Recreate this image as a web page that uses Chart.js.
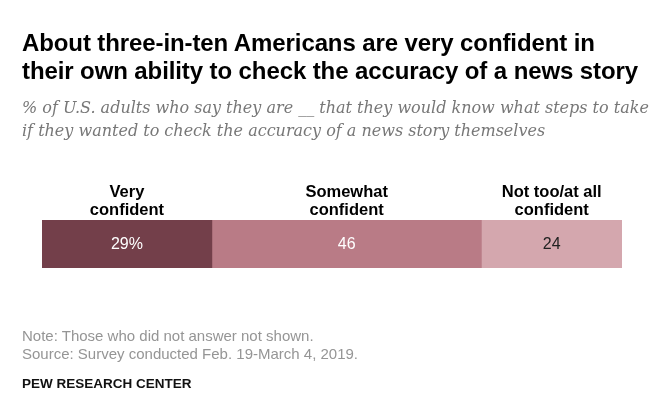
<!DOCTYPE html>
<html>
<head>
<meta charset="utf-8">
<script src="https://cdn.jsdelivr.net/npm/chart.js@4"></script>
<style>
  html, body { margin: 0; padding: 0; background: #fff; }
  #wrap { position: relative; width: 670px; height: 415px; overflow: hidden; }
  #chart { position: absolute; left: 0; top: 0; }
  .t { position: absolute; white-space: nowrap; }
  #title { left: 22px; top: 29px; font-family: "Liberation Sans", Arial, sans-serif; font-weight: bold; font-size: 24px; line-height: 28px; color: #000; letter-spacing: -0.1px; }
  #sub { left: 22px; top: 96px; font-family: "DejaVu Serif", Georgia, serif; font-style: italic; font-size: 16px; line-height: 23px; color: #777; }
  #note { left: 22px; top: 327px; font-family: "Liberation Sans", Arial, sans-serif; font-size: 15px; line-height: 18px; color: #959595; }
  #pew { left: 22px; top: 376px; font-family: "Liberation Sans", Arial, sans-serif; font-weight: bold; font-size: 13.5px; line-height: 16px; color: #111; }
</style>
</head>
<body>
<div id="wrap">
  <canvas id="chart" width="670" height="415"></canvas>
  <div class="t" id="title">About three-in-ten Americans are very confident in<br>their own ability to check the accuracy of a news story</div>
  <div class="t" id="sub">% of U.S. adults who say they are __ that they would know what steps to take<br>if they wanted to check the accuracy of a news story themselves</div>
  <div class="t" id="note">Note: Those who did not answer not shown.<br>Source: Survey conducted Feb. 19-March 4, 2019.</div>
  <div class="t" id="pew">PEW RESEARCH CENTER</div>
</div>
<script>
const categories = ['Very confident', 'Somewhat confident', 'Not too/at all confident'];
const headerLines = [['Very', 'confident'], ['Somewhat', 'confident'], ['Not too/at all', 'confident']];
const values = [29, 46, 24];
const valueLabels = ['29%', '46', '24'];
const barColors = ['#733f4a', '#b97b86', '#d4a7ae'];
const labelColors = ['#ffffff', '#ffffff', '#222222'];

const total = values.reduce((a, b) => a + b, 0);

const segLabels = {
  id: 'segLabels',
  afterDatasetsDraw(chart) {
    const ctx = chart.ctx;
    ctx.save();
    chart.data.datasets.forEach((ds, i) => {
      const bar = chart.getDatasetMeta(i).data[0];
      const cx = (bar.x + bar.base) / 2;
      const top = bar.y - bar.height / 2;
      ctx.textAlign = 'center';
      ctx.textBaseline = 'middle';
      ctx.fillStyle = labelColors[i];
      ctx.font = '16px "Liberation Sans", Arial, sans-serif';
      ctx.fillText(valueLabels[i], cx, bar.y + 1);
      ctx.textBaseline = 'alphabetic';
      ctx.fillStyle = '#000';
      ctx.font = 'bold 16.5px "Liberation Sans", Arial, sans-serif';
      const lines = headerLines[i];
      lines.forEach((ln, j) => {
        ctx.fillText(ln, cx, top - 5 - (lines.length - 1 - j) * 18);
      });
    });
    ctx.restore();
  }
};

new Chart(document.getElementById('chart'), {
  type: 'bar',
  data: {
    labels: [''],
    datasets: categories.map((c, i) => ({
      label: c,
      data: [values[i]],
      backgroundColor: barColors[i],
      borderWidth: 0,
      categoryPercentage: 1,
      barPercentage: 1
    }))
  },
  options: {
    indexAxis: 'y',
    responsive: false,
    animation: false,
    devicePixelRatio: 1,
    layout: { padding: { left: 42, right: 48, top: 220, bottom: 147 } },
    plugins: { legend: { display: false }, tooltip: { enabled: false }, title: { display: false } },
    scales: {
      x: { stacked: true, min: 0, max: total, display: false },
      y: { stacked: true, display: false }
    }
  },
  plugins: [segLabels]
});
</script>
</body>
</html>
